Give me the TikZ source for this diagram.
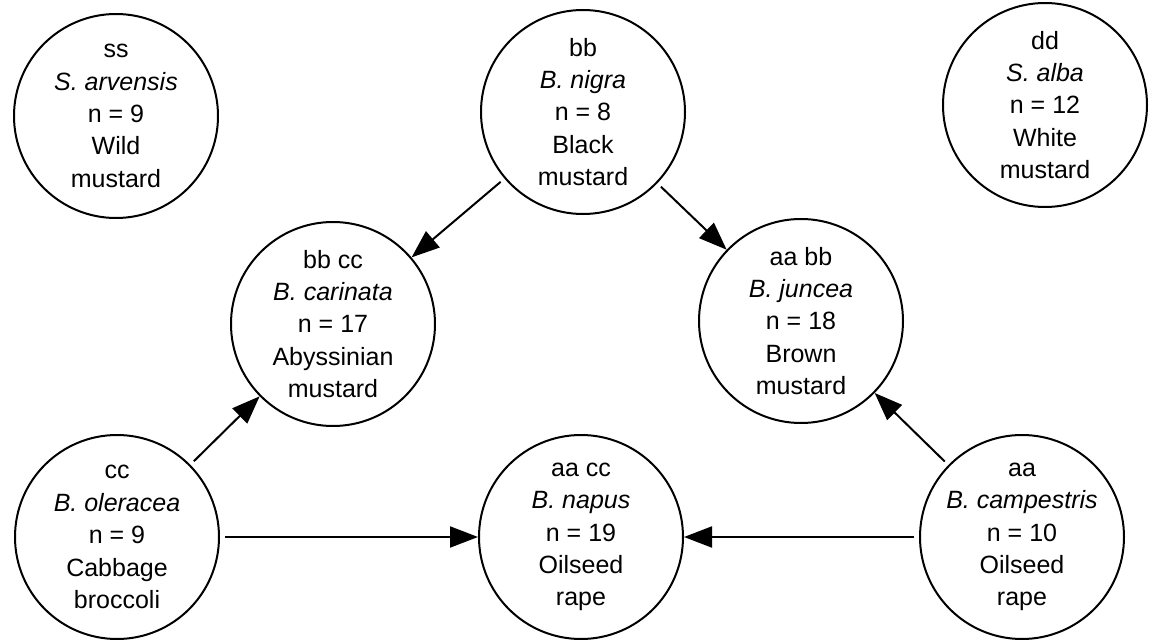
\documentclass[tikz,border=0pt]{standalone}
\usepackage{fontspec}
\setmainfont{Liberation Sans}
\usetikzlibrary{arrows.meta}
\begin{document}
\begin{tikzpicture}[x=0.5pt,y=-0.5pt,
  species/.style={circle,draw,line width=1pt,minimum size=102pt,inner sep=0pt},
  lbl/.style={align=center,font=\fontsize{12.5pt}{16.2pt}\selectfont,inner sep=0pt},
  cross/.style={line width=1pt,-{Triangle[length=14pt,width=10.5pt]},shorten <=2.5pt}]
\useasboundingbox (0,0) rectangle (1152,642);
% circles
\node[species] (ss) at (116,116) {};
\node[species] (nigra) at (583,112) {};
\node[species] (alba) at (1045,105) {};
\node[species] (carinata) at (333,324) {};
\node[species] (juncea) at (801,321) {};
\node[species] (oleracea) at (117,537) {};
\node[species] (napus) at (581,537) {};
\node[species] (campestris) at (1022,537) {};
% texts
\node[lbl] (ss-t) at (ss) {ss\\\textit{S. arvensis}\\n = 9\\Wild\\mustard};
\node[lbl] (nigra-t) at (nigra) {bb\\\textit{B. nigra}\\n = 8\\Black\\mustard};
\node[lbl] (alba-t) at (alba) {dd\\\textit{S. alba}\\n = 12\\White\\mustard};
\node[lbl] (carinata-t) at (carinata) {bb cc\\\textit{B. carinata}\\n = 17\\Abyssinian\\mustard};
\node[lbl] (juncea-t) at (juncea) {aa bb\\\textit{B. juncea}\\n = 18\\Brown\\mustard};
\node[lbl] (oleracea-t) at (oleracea) {cc\\\textit{B. oleracea}\\n = 9\\Cabbage\\broccoli};
\node[lbl] (napus-t) at (napus) {aa cc\\\textit{B. napus}\\n = 19\\Oilseed\\rape};
\node[lbl] (campestris-t) at (campestris) {aa\\\textit{B. campestris}\\n = 10\\Oilseed\\rape};
% connectors
\draw[cross] (nigra) -- (carinata);
\draw[cross] (nigra) -- (juncea);
\draw[cross] (oleracea) -- (carinata);
\draw[cross] (campestris) -- (juncea);
\draw[cross] (oleracea) -- (napus);
\draw[cross] (campestris) -- (napus);
\end{tikzpicture}
\end{document}
